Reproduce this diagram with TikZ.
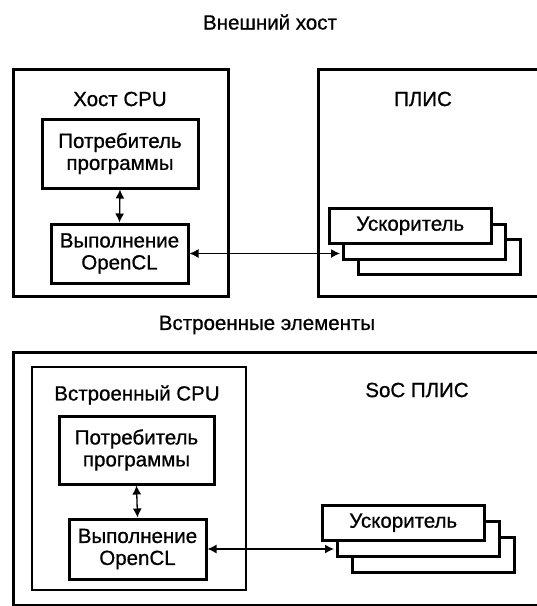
\documentclass[tikz,border=0pt]{standalone}
\usepackage{fontspec}
\setmainfont{Liberation Sans}[FakeBold=0.8]
\usetikzlibrary{arrows.meta}
\begin{document}
\begin{tikzpicture}[x=1pt,y=-1pt,
  every node/.style={font=\fontsize{20.5}{22}\selectfont, inner sep=0pt},
  frame/.style={draw, line width=3pt},
  thinframe/.style={draw, line width=2pt},
  blk/.style={draw, line width=3pt, fill=white, align=center},
  acc/.style={draw, line width=2.5pt, fill=white, minimum width=162pt, minimum height=35pt, anchor=north west},
  link/.style={line width=1.3pt, {Latex[length=9pt,width=9pt]}-{Latex[length=9pt,width=9pt]}}
]
\useasboundingbox (0,0) rectangle (537,606);
\clip (0,0) rectangle (537,606);
% ---------- top ----------
\node (t1) at (270,22) {Внешний хост};
\node[frame, minimum width=215pt, minimum height=227pt, anchor=north west] (host) at (12,68) {};
\node (hostlbl) at (120,99) {Хост CPU};
\node[blk, minimum width=156pt, minimum height=69pt] (cons1) at (120,153.5) {Потребитель\\программы};
\node[blk, minimum width=137pt, minimum height=59pt] (run1) at (119.5,253.5) {Выполнение\\OpenCL};
\draw[link] (cons1.south) -- (run1.north);
\node[frame, minimum width=240pt, minimum height=227pt, anchor=north west] (fpga) at (317,68) {};
\node (fpgalbl) at (423,99) {ПЛИС};
\node[acc] (a1c) at (357,238) {};
\node[acc] (a1b) at (342,223) {};
\node[acc] (a1a) at (328,207) {Ускоритель};
\draw[link, shorten >=2pt] (run1.east) -- (run1.east -| a1b.west);
% ---------- bottom ----------
\node (t2) at (267,325) {Встроенные элементы};
\node[frame, minimum width=545pt, minimum height=253pt, anchor=north west] (soc) at (12,351) {};
\node[thinframe, minimum width=214pt, minimum height=223pt, anchor=north west] (ecpu) at (31,366) {};
\node (ecpulbl) at (137,395) {Встроенный CPU};
\node (soclbl) at (417,390) {SoC ПЛИС};
\node[blk, minimum width=155pt, minimum height=68pt] (cons2) at (136.5,450) {Потребитель\\программы};
\node[blk, minimum width=137pt, minimum height=60pt] (run2) at (137.5,549) {Выполнение\\OpenCL};
\draw[link] (cons2.south) -- (run2.north);
\node[acc] (a2c) at (351,536) {};
\node[acc] (a2b) at (336,520) {};
\node[acc] (a2a) at (321,504) {Ускоритель};
\draw[link, shorten >=2pt] (run2.east) -- (run2.east -| a2b.west);
\end{tikzpicture}
\end{document}
